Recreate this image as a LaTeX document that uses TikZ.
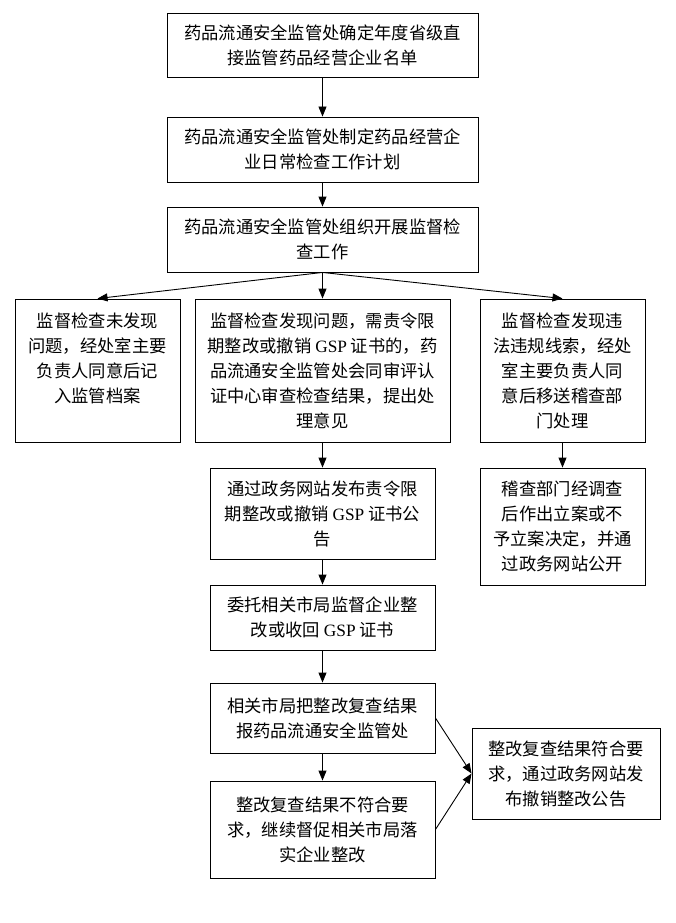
\documentclass[tikz,border=0pt]{standalone}
\usepackage{fontspec}
\setmainfont{Liberation Serif}
\newfontfamily\cjk{Noto Sans CJK SC}
\usetikzlibrary{arrows.meta}
\tikzset{
  box/.style={draw=black, line width=0.9pt, rectangle, inner sep=0pt, align=center,
    font=\cjk\fontsize{17.3}{25}\selectfont},
  arr/.style={draw=black, line width=0.9pt, -{Triangle[length=10pt,width=8pt]}}
}
\newcommand{\gsp}{{\rmfamily GSP}}
\begin{document}
\begin{tikzpicture}[x=1pt,y=-1pt]
\useasboundingbox (0,0) rectangle (675,923);
\node[box, minimum width=311pt, minimum height=64pt] (b1) at (322.5,45) {药品流通安全监管处确定年度省级直\\接监管药品经营企业名单};
\node[box, minimum width=311pt, minimum height=65pt] (b2) at (322.5,149.5) {药品流通安全监管处制定药品经营企\\业日常检查工作计划};
\node[box, minimum width=311pt, minimum height=65pt] (b3) at (322.5,239.5) {药品流通安全监管处组织开展监督检\\查工作};
\node[box, minimum width=165pt, minimum height=143pt] (b4) at (97.5,370.5) {监督检查未发现\\问题，经处室主要\\负责人同意后记\\入监管档案\\\mbox{}};
\node[box, minimum width=255pt, minimum height=143pt] (b5) at (322.5,370.5) {监督检查发现问题，需责令限\\期整改或撤销 \gsp{} 证书的，药\\品流通安全监管处会同审评认\\证中心审查检查结果，提出处\\理意见};
\node[box, minimum width=165pt, minimum height=143pt] (b6) at (562.5,370.5) {监督检查发现违\\法违规线索，经处\\室主要负责人同\\意后移送稽查部\\门处理};
\node[box, minimum width=225pt, minimum height=91pt] (b7) at (322.5,513.5) {通过政务网站发布责令限\\期整改或撤销 \gsp{} 证书公\\告};
\node[box, minimum width=165pt, minimum height=117pt] (b12) at (562.5,526.5) {稽查部门经调查\\后作出立案或不\\予立案决定，并通\\过政务网站公开};
\node[box, minimum width=225pt, minimum height=65pt] (b8) at (322.5,617.5) {委托相关市局监督企业整\\改或收回 \gsp{} 证书};
\node[box, minimum width=225pt, minimum height=70pt] (b9) at (322.5,718) {相关市局把整改复查结果\\报药品流通安全监管处};
\node[box, minimum width=225pt, minimum height=97pt] (b10) at (322.5,829.5) {整改复查结果不符合要\\求，继续督促相关市局落\\实企业整改};
\node[box, minimum width=188pt, minimum height=91pt] (b11) at (566,773.5) {整改复查结果符合要\\求，通过政务网站发\\布撤销整改公告};
\draw[arr] (b1) -- (b2);
\draw[arr] (b2) -- (b3);
\draw[arr] (b3.south) -- (b4.north);
\draw[arr] (b3.south) -- (b5.north);
\draw[arr] (b3.south) -- (b6.north);
\draw[arr] (b5) -- (b7);
\draw[arr] (b6) -- (b12);
\draw[arr] (b7) -- (b8);
\draw[arr] (b8) -- (b9);
\draw[arr] (b9) -- (b10);
\draw[arr] (b9.east) -- (b11.west);
\draw[arr] (b10.east) -- (b11.west);
\end{tikzpicture}
\end{document}
